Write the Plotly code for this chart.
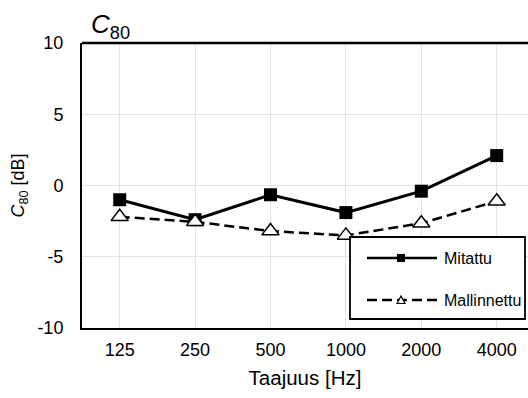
import plotly.graph_objects as go

categories = ["125", "250", "500", "1000", "2000", "4000"]
mitattu = [-1.0, -2.4, -0.65, -1.9, -0.4, 2.1]
mallinnettu = [-2.2, -2.55, -3.2, -3.5, -2.65, -1.1]
y_ticks = [-10, -5, 0, 5, 10]
y_ticktext = ["-10", "-5", "0", "5", "10"]
series_names = ["Mitattu", "Mallinnettu"]

FONT = "Liberation Sans, Arial, sans-serif"
W, H = 528, 398
L, R, T, B = 82, 0, 43, 70
PW, PH = W - L - R, H - T - B


def px(x):
    return (x - L) / PW


def py(y):
    return (H - B - y) / PH


fig = go.Figure()
fig.add_trace(go.Scatter(
    x=categories, y=mitattu, name=series_names[0], mode="lines+markers",
    line=dict(color="black", width=3),
    marker=dict(symbol="square", size=13, color="black"),
    showlegend=False,
))
fig.add_trace(go.Scatter(
    x=categories, y=mallinnettu, name=series_names[1], mode="lines+markers",
    line=dict(color="black", width=2.5, dash="10px,5px"),
    marker=dict(symbol="triangle-up", size=15, color="white",
                line=dict(color="black", width=1.5)),
    showlegend=False,
))

# manual legend (box, sample lines, symbols, labels)
shapes = [
    dict(type="line", xref="paper", yref="paper", x0=0, x1=1, y0=1, y1=1,
         line=dict(color="black", width=2.5), layer="above"),
    dict(type="rect", xref="paper", yref="paper", x0=px(350), x1=px(525),
         y0=py(319), y1=py(237), fillcolor="white",
         line=dict(color="black", width=1.8), layer="above"),
    dict(type="line", xref="paper", yref="paper", x0=px(367), x1=px(437),
         y0=py(258), y1=py(258), line=dict(color="black", width=2.5), layer="above"),
    dict(type="rect", xref="paper", yref="paper", x0=px(397), x1=px(405),
         y0=py(262), y1=py(254), fillcolor="black",
         line=dict(color="black", width=0), layer="above"),
    dict(type="line", xref="paper", yref="paper", x0=px(367), x1=px(437),
         y0=py(300), y1=py(300), line=dict(color="black", width=2.5, dash="10px,5px"),
         layer="above"),
    dict(type="path", xref="paper", yref="paper",
         path=f"M {px(397)} {py(303.5)} L {px(405)} {py(303.5)} L {px(401)} {py(296)} Z",
         fillcolor="white", line=dict(color="black", width=1.2), layer="above"),
]
annotations = [
    dict(text=series_names[0], xref="paper", yref="paper", x=px(442), y=py(258),
         xanchor="left", yanchor="middle", showarrow=False, font=dict(size=16)),
    dict(text=series_names[1], xref="paper", yref="paper", x=px(442), y=py(300),
         xanchor="left", yanchor="middle", showarrow=False, font=dict(size=16)),
]

fig.update_layout(
    width=W, height=H,
    margin=dict(l=L, r=R, t=T, b=B),
    paper_bgcolor="white", plot_bgcolor="white",
    font=dict(family=FONT, color="black", size=18),
    title=dict(text="<i>C</i><sub>80</sub>", font=dict(size=26),
               xref="container", yref="container", x=91 / W, xanchor="left",
               y=1 - 24 / H, yanchor="middle"),
    showlegend=False,
    xaxis=dict(type="category", range=[-0.5, 5.415],
               showgrid=True, gridcolor="#e3e3e3", gridwidth=1,
               showline=True, linecolor="black", linewidth=2, mirror=False,
               ticks="", tickfont=dict(size=18), ticklabelstandoff=4,
               title=dict(text="Taajuus [Hz]", font=dict(size=20.5), standoff=12)),
    yaxis=dict(range=[-10, 10], tickvals=y_ticks, ticktext=y_ticktext,
               showgrid=True, gridcolor="#e3e3e3", gridwidth=1, zeroline=False,
               showline=True, linecolor="black", linewidth=2,
               ticks="", tickfont=dict(size=18), ticklabelstandoff=13,
               title=dict(text="<i>C</i><sub>80</sub> [dB]", font=dict(size=18), standoff=8)),
    shapes=shapes,
    annotations=annotations,
)

fig.write_html("out.html")
